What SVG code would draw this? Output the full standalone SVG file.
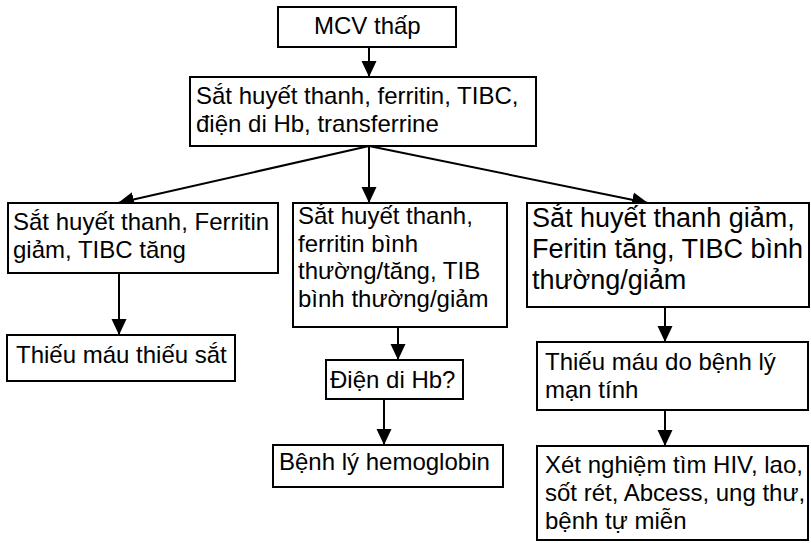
<svg xmlns="http://www.w3.org/2000/svg" width="811" height="543" viewBox="0 0 811 543">
<style>
  .box { fill: #ffffff; stroke: #000000; stroke-width: 2; }
  .t { font-family: "Liberation Sans", Arial, sans-serif; font-size: 24px; fill: #000000; }
  .tl { font-family: "Liberation Sans", Arial, sans-serif; font-size: 27px; fill: #000000; }
  .c { stroke: #000000; stroke-width: 2; fill: none; marker-end: url(#arr); }
</style>
<defs>
  <marker id="arr" markerUnits="userSpaceOnUse" markerWidth="16" markerHeight="16" refX="16" refY="8" orient="auto">
    <path d="M0,0.5 L16,8 L0,15.5 z" fill="#000000"/>
  </marker>
</defs>
<rect width="811" height="543" fill="#ffffff"/>
<g id="connectors">
  <line class="c" x1="369" y1="47" x2="369" y2="77"/>
  <line class="c" x1="369" y1="146" x2="118" y2="203"/>
  <line class="c" x1="369" y1="146" x2="369" y2="203"/>
  <line class="c" x1="369" y1="146" x2="648" y2="203"/>
  <line class="c" x1="119" y1="273" x2="119" y2="335"/>
  <line class="c" x1="398" y1="327" x2="398" y2="360"/>
  <line class="c" x1="384" y1="399" x2="384" y2="445"/>
  <line class="c" x1="665" y1="307" x2="665" y2="342"/>
  <line class="c" x1="665" y1="410" x2="665" y2="446"/>
</g>
<g id="n1">
  <rect class="box" x="278" y="7" width="178" height="40"/>
  <text class="t" x="314" y="34">MCV thấp</text>
</g>
<g id="n2">
  <rect class="box" x="190" y="77" width="346" height="69"/>
  <text class="t"><tspan x="196" y="104">Sắt huyết thanh, ferritin, TIBC,</tspan><tspan x="196" y="132">điện di Hb, transferrine</tspan></text>
</g>
<g id="n3">
  <rect class="box" x="8" y="203" width="270" height="70"/>
  <text class="t"><tspan x="13" y="230">Sắt huyết thanh, Ferritin</tspan><tspan x="13" y="258">giảm, TIBC tăng</tspan></text>
</g>
<g id="n4">
  <rect class="box" x="293" y="203" width="214" height="124"/>
  <text class="t"><tspan x="298" y="224">Sắt huyết thanh,</tspan><tspan x="298" y="251.5">ferritin bình</tspan><tspan x="298" y="279">thường/tăng, TIB</tspan><tspan x="298" y="306.5">bình thường/giảm</tspan></text>
</g>
<g id="n5">
  <rect class="box" x="527" y="203" width="282" height="104"/>
  <text class="tl"><tspan x="532" y="227">Sắt huyết thanh giảm,</tspan><tspan x="532" y="258">Feritin tăng, TIBC bình</tspan><tspan x="532" y="289">thường/giảm</tspan></text>
</g>
<g id="n6">
  <rect class="box" x="7" y="335" width="228" height="46"/>
  <text class="t" x="16" y="363">Thiếu máu thiếu sắt</text>
</g>
<g id="n7">
  <rect class="box" x="326" y="360" width="137" height="39"/>
  <text class="t" x="330" y="388">Điện di Hb?</text>
</g>
<g id="n8">
  <rect class="box" x="273" y="445" width="230" height="42"/>
  <text class="t" x="279" y="470">Bệnh lý hemoglobin</text>
</g>
<g id="n9">
  <rect class="box" x="537" y="342" width="271" height="68"/>
  <text class="t"><tspan x="545" y="370">Thiếu máu do bệnh lý</tspan><tspan x="545" y="398">mạn tính</tspan></text>
</g>
<g id="n10">
  <rect class="box" x="537" y="446" width="271" height="94"/>
  <text class="t"><tspan x="545" y="473">Xét nghiệm tìm HIV, lao,</tspan><tspan x="545" y="501">sốt rét, Abcess, ung thư,</tspan><tspan x="545" y="529">bệnh tự miễn</tspan></text>
</g>
</svg>
